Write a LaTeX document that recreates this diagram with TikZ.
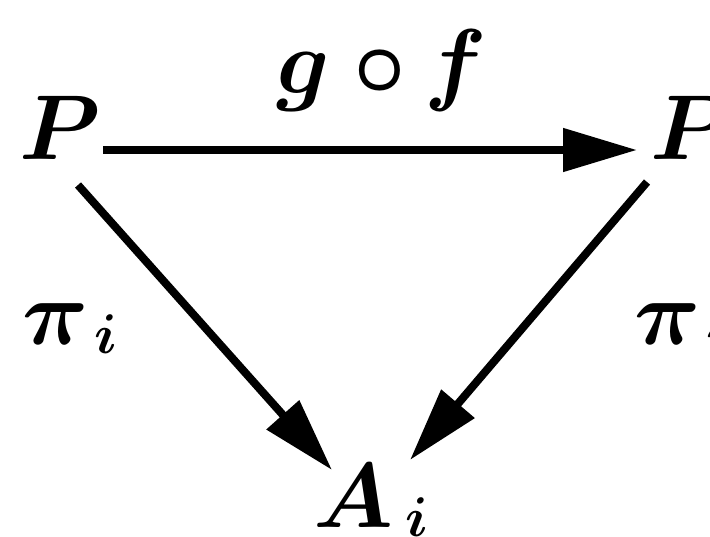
\documentclass[tikz,border=0pt]{standalone}
\usepackage{fix-cm}
\usetikzlibrary{arrows.meta}
\tikzset{
    lbl/.style={inner sep=0pt, anchor=base west, font=\fontsize{46}{50}\selectfont\boldmath},
    arrow/.style={-{Triangle[length=37pt,width=21pt]}, line width=4pt}
}
\newcommand{\lowi}{\raisebox{-4.5pt}{\fontsize{28}{30}\selectfont\boldmath$i$}}

\begin{document}
\begin{tikzpicture}[x=0.5pt, y=-0.5pt]
        \useasboundingbox (0,0) rectangle (710,536);
        \node [lbl] (pl) at (19,159) {$P$};
        \node [lbl] (pr) at (650,159) {$P$};
        \node [lbl] (ai) at (313,527) {$A$\hspace{6pt}\lowi};
        \node [lbl] (gf) at (276,93) {$g$\hspace{12pt}$\circ$\hspace{9pt}$f$};
        \node [lbl] (pil) at (22,344) {$\pi$\hspace{3pt}\lowi};
        \node [lbl] (pir) at (634,344) {$\pi$\hspace{3pt}\lowi};
        \draw [arrow] ([shift={(84,-9)}]pl.base west) -- ([shift={(-13,-9)}]pr.base west);
        \draw [arrow] ([shift={(59,26)}]pl.base west) -- ([shift={(19,-57)}]ai.base west);
        \draw [arrow] ([shift={(-3,23)}]pr.base west) -- ([shift={(97,-67)}]ai.base west);
    \end{tikzpicture}
\end{document}
